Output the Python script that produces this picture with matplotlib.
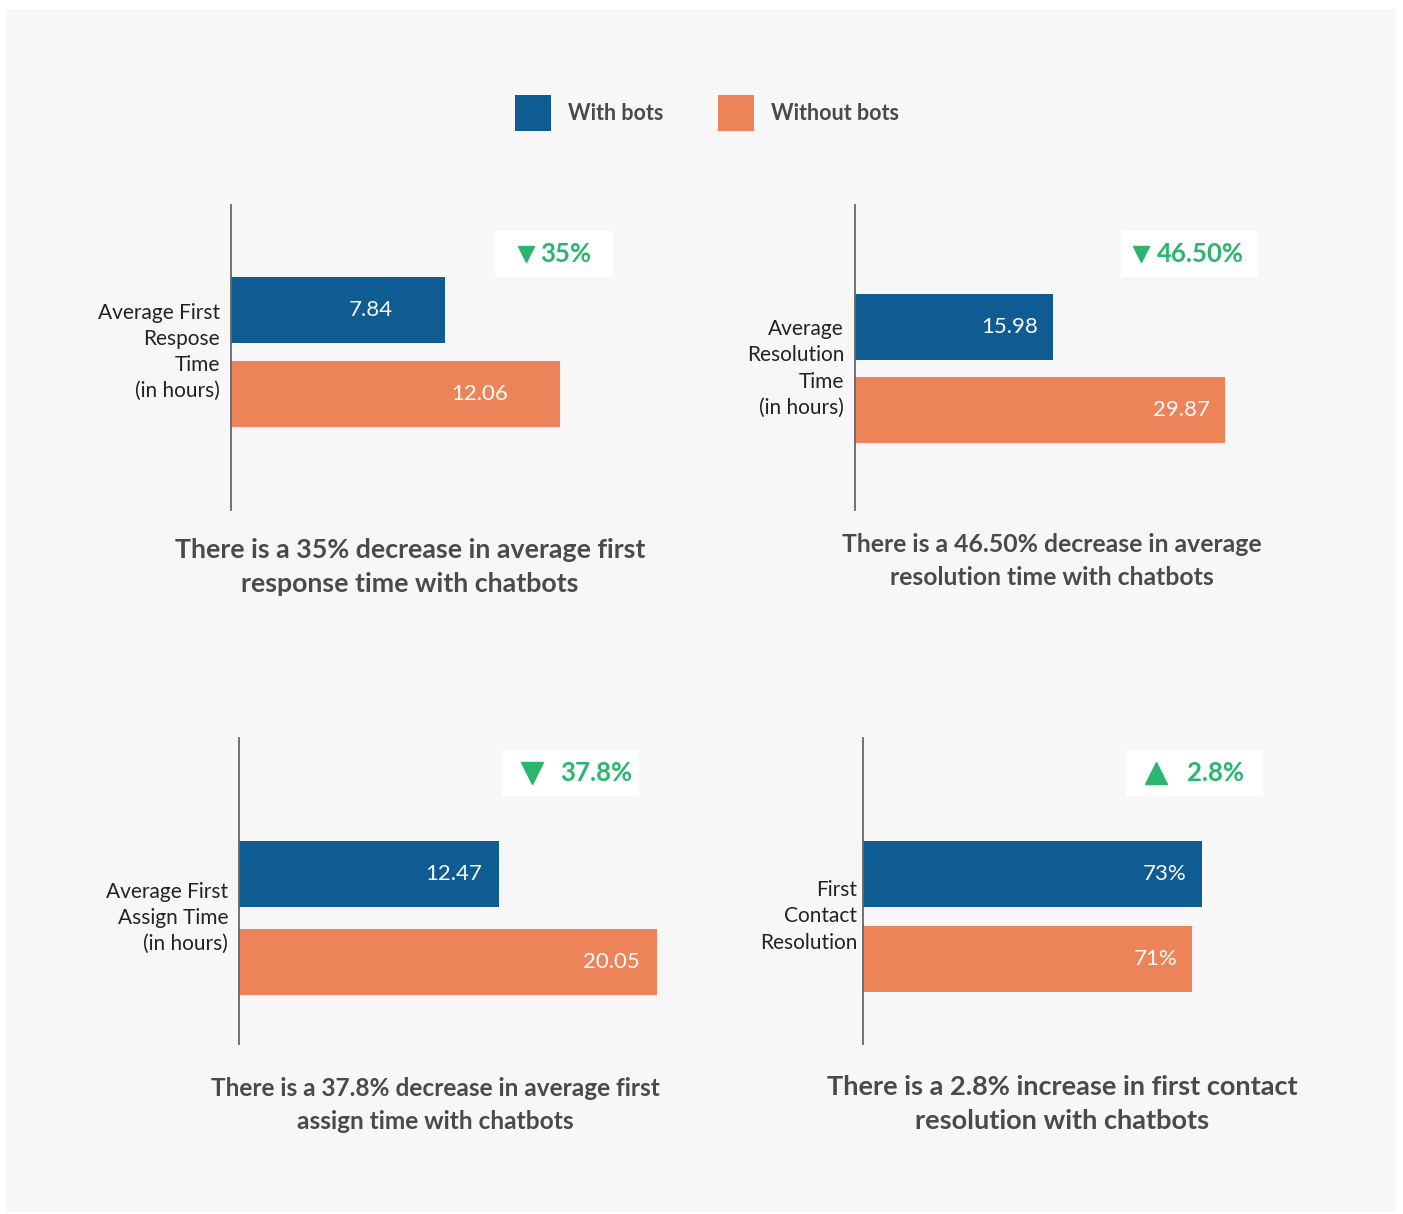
import matplotlib
matplotlib.use("Agg")
import matplotlib.pyplot as plt
from matplotlib.patches import Rectangle

plt.rcParams['font.family'] = ['Lato', 'DejaVu Sans']

# ---------------- data ----------------
series_names = ["With bots", "Without bots"]
metric_labels = [
    "Average First\nRespose\nTime\n(in hours)",
    "Average\nResolution\nTime\n(in hours)",
    "Average First\nAssign Time\n(in hours)",
    "First\nContact\nResolution",
]
with_bots = [7.84, 15.98, 12.47, 73]
without_bots = [12.06, 29.87, 20.05, 71]
value_fmt = ["{:.2f}", "{:.2f}", "{:.2f}", "{:.0f}%"]
change_labels = ["35%", "46.50%", "37.8%", "2.8%"]
change_dir = ["down", "down", "down", "up"]
captions = [
    "There is a 35% decrease in average first\nresponse time with chatbots",
    "There is a 46.50% decrease in average\nresolution time with chatbots",
    "There is a 37.8% decrease in average first\nassign time with chatbots",
    "There is a 2.8% increase in first contact\nresolution with chatbots",
]

# ---------------- style / layout ----------------
W, H = 1403, 1214
BLUE = "#0f5c92"
ORANGE = "#ec8359"
GREEN = "#2db56f"
TEXT_DARK = "#4a4a4a"
BG = "#f7f7f7"

fig = plt.figure(figsize=(W / 100, H / 100), dpi=100)
fig.patch.set_facecolor("white")

def fx(px):
    return px / W

def fy(py):
    return 1 - py / H

# gray panel
fig.patches.append(Rectangle((fx(6), fy(1212)), fx(1396) - fx(6), fy(9) - fy(1212),
                             transform=fig.transFigure, facecolor=BG, edgecolor="none", zorder=-5))

# legend
for (sx, tx, col, name) in [(515, 568, BLUE, series_names[0]), (718, 771, ORANGE, series_names[1])]:
    fig.patches.append(Rectangle((fx(sx), fy(131)), fx(36), 36 / H, transform=fig.transFigure,
                                 facecolor=col, edgecolor="none", zorder=2))
    fig.text(fx(tx), fy(114), name, ha="left", va="center", fontsize=15.5,
             fontweight="bold", color=TEXT_DARK)

panels = [
    dict(ax_x=231, top=205, bot=510, c0=310, sp=84, bh=66, ppu=27.3, vpad=52, lpad=11,
         badge=(495, 231, 613, 277), tri_x=526, tri_ms=11, btx=540, cap=(410, 567), cfs=19.3),
    dict(ax_x=855, top=205, bot=510, c0=327, sp=83, bh=66, ppu=12.4, vpad=15, lpad=11,
         badge=(1121, 231, 1258, 277), tri_x=1141, tri_ms=11, btx=1157, cap=(1052, 561), cfs=17.8),
    dict(ax_x=239, top=738, bot=1044, c0=874, sp=88, bh=66, ppu=20.85, vpad=17, lpad=11,
         badge=(502, 750, 639, 796), tri_x=532, tri_ms=16, btx=560, cap=(435, 1105), cfs=17.6),
    dict(ax_x=863, top=738, bot=1044, c0=874, sp=85, bh=66, ppu=4.64, vpad=15, lpad=6,
         badge=(1126, 750, 1263, 796), tri_x=1156, tri_ms=16, btx=1187, cap=(1062, 1104), cfs=19.5),
]

AX_W = 520
for i, p in enumerate(panels):
    ax = fig.add_axes([fx(p["ax_x"]), fy(p["bot"]), fx(AX_W), (p["bot"] - p["top"]) / H])
    ax.set_facecolor("none")
    ylo = -(p["c0"] - p["top"]) / p["sp"]
    yhi = (p["bot"] - p["c0"]) / p["sp"]
    ax.set_ylim(yhi, ylo)
    ax.set_xlim(0, AX_W / p["ppu"])
    vals = [with_bots[i], without_bots[i]]
    cols = [BLUE, ORANGE]
    h = p["bh"] / p["sp"]
    ax.barh([0, 1], vals, height=h, color=cols, zorder=2)
    for j, v in enumerate(vals):
        ax.annotate(value_fmt[i].format(v), xy=(v, j), xytext=(-p["vpad"] * 0.72, 0),
                    textcoords="offset points", ha="right", va="center",
                    color="white", fontsize=16)
    for s in ["top", "right", "bottom"]:
        ax.spines[s].set_visible(False)
    ax.spines["left"].set_color("#666666")
    ax.spines["left"].set_linewidth(1.3)
    ax.set_xticks([])
    ax.set_yticks([])
    # category label
    ax.annotate(metric_labels[i], xy=(0, 0.5), xytext=(-p["lpad"] * 0.72, 0),
                textcoords="offset points", ha="right", va="center",
                fontsize=15, color="#222222", linespacing=1.38)
    # badge
    bx0, by0, bx1, by1 = p["badge"]
    fig.patches.append(Rectangle((fx(bx0), fy(by1)), fx(bx1 - bx0), (by1 - by0) / H,
                                 transform=fig.transFigure, facecolor="white",
                                 edgecolor="none", zorder=3))
    by = (by0 + by1) / 2
    marker = "v" if change_dir[i] == "down" else "^"
    fig.lines.append(plt.Line2D([fx(p["tri_x"])], [fy(by)], transform=fig.transFigure,
                                marker=marker, markersize=p["tri_ms"],
                                color=GREEN, linestyle="none", zorder=4))
    fig.text(fx(p["btx"]), fy(by), change_labels[i], ha="left", va="center",
             fontsize=18.5, fontweight="bold", color=GREEN, zorder=5)
    # caption
    cx, cy = p["cap"]
    fig.text(fx(cx), fy(cy), captions[i], ha="center", va="center",
             fontsize=p["cfs"], fontweight="bold", color=TEXT_DARK, linespacing=1.5)

fig.savefig("out.png", dpi=100, facecolor="white")
